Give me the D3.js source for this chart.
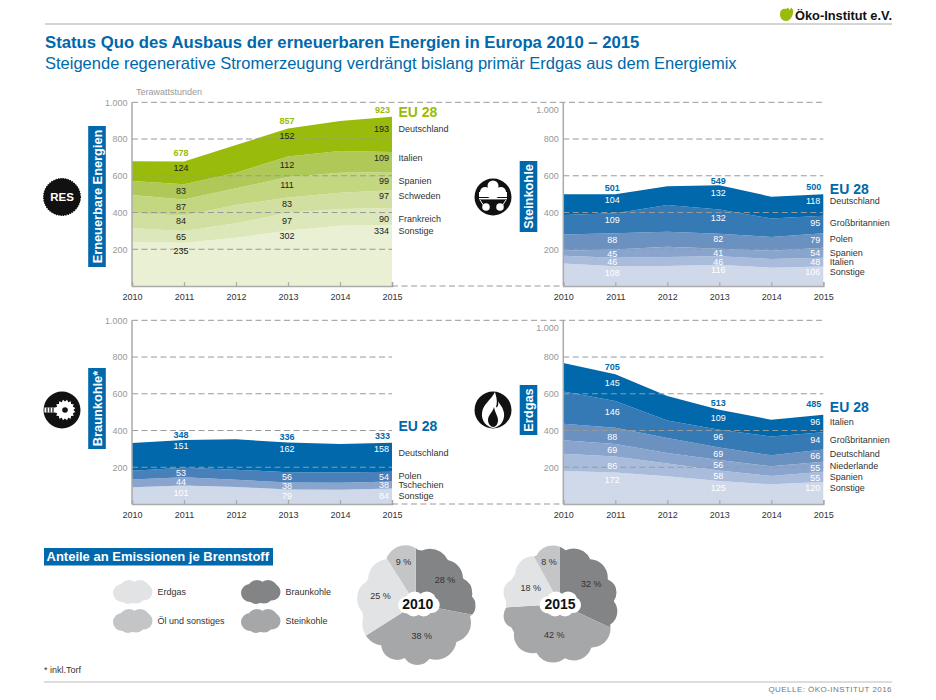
<!DOCTYPE html>
<html>
<head>
  <meta charset="UTF-8">
  <style>
    body { margin: 0; background: #fff; }
    text { font-family: "Liberation Sans", Arial, sans-serif; }
    .yaxis text { fill: #999; font-size: 9px; }
    .xaxis text { fill: #333; font-size: 9px; }
    .axisline { stroke: #aaa; stroke-width: 1.5; }
  </style>
</head>
<body>
<svg width="936" height="700"></svg>
<script src="https://d3js.org/d3.v7.min.js"></script>
<script>

// data, all in TWh, bottom band first
let years = [2010, 2011, 2012, 2013, 2014, 2015];
let labelYears = [2011, 2013, 2015];
let yTicks = [200, 400, 600, 800, 1000];

let resNames = ["Sonstige", "Frankreich", "Schweden", "Spanien", "Italien", "Deutschland"];
let resValues = [
  [238, 235, 263, 302, 328, 334],
  [76, 65, 78, 97, 91, 90],
  [82, 84, 100, 83, 89, 97],
  [99, 87, 91, 111, 109, 99],
  [77, 83, 85, 112, 118, 109],
  [107, 124, 151, 152, 163, 193]
];
let resTotals = [678, 857, 923];

let steinNames = ["Sonstige", "Italien", "Spanien", "Polen", "Großbritannien", "Deutschland"];
let steinValues = [
  [123, 108, 109, 116, 100, 106],
  [42, 46, 49, 46, 47, 48],
  [27, 45, 56, 41, 45, 54],
  [89, 88, 82, 82, 75, 79],
  [106, 109, 145, 132, 101, 95],
  [112, 104, 102, 132, 118, 118]
];
let steinTotals = [501, 549, 500];

let braunNames = ["Sonstige", "Tschechien", "Polen", "Deutschland"];
let braunValues = [
  [91, 101, 93, 79, 78, 84],
  [43, 44, 39, 38, 38, 38],
  [47, 53, 55, 56, 56, 54],
  [151, 151, 165, 162, 155, 158]
];
let braunTotals = [348, 336, 333];

let gasNames = ["Sonstige", "Spanien", "Niederlande", "Deutschland", "Großbritannien", "Italien"];
let gasValues = [
  [180, 172, 151, 125, 107, 120],
  [94, 86, 69, 58, 45, 55],
  [73, 69, 58, 56, 53, 55],
  [90, 88, 81, 69, 60, 66],
  [176, 146, 96, 96, 103, 94],
  [155, 145, 133, 109, 91, 96]
];
let gasTotals = [705, 513, 485];

let fuelNames = ["Braunkohle", "Steinkohle", "Erdgas", "Öl und sonstiges"];
let share2010 = [28, 38, 25, 9];
let share2015 = [32, 42, 18, 8];

let green = ["#e9f0d3", "#dce7ba", "#d1dfa0", "#c3d680", "#afc958", "#98bb0c"];
let blue6 = ["#cfd9e9", "#aabcdc", "#8aa5cd", "#6a91c0", "#3579b5", "#0068ab"];
let blue4 = ["#cfd9e9", "#8aa5cd", "#4a80b9", "#0068ab"];
let fuelColors = ["#838486", "#a6a7a9", "#e2e3e5", "#c4c5c7"];

let blue = "#0068ab";

let svg = d3.select("svg");

let x = d3.scaleLinear().domain([2010, 2015]).range([0, 260]);
let y = d3.scaleLinear().domain([0, 1000]).range([183.7, 0]);
let nf = d3.formatLocale({ decimal: ",", thousands: ".", grouping: [3], currency: ["", ""] }).format(",");

// nudges (px) move the value labels off the band middle the way the original has them
let panels = [
  { names: resNames, values: resValues, totals: resTotals, colors: green, ink: "#222", total: "#98bb0c",
    left: 132, top: 102.3, eu: 112,
    nudge: [[-14, 0, -2, -1, -1, -5], [-22, -1, -1, -2, -2, -7], [-24, 2, -3, 0, -4, -6]],
    nameNudge: [0, 0, 0, 0, 0, 0], totalNudge: [-9, -8, -7] },
  { names: steinNames, values: steinValues, totals: steinTotals, colors: blue6, ink: "#fff", total: blue,
    left: 563.3, top: 102.3, eu: 189, liftTop: true,
    nudge: [[-3, 0, 0, -2, -3, -4], [-5, 1, 0, -2, -4, -4], [-4, 0, 0, -1, -2, -4]],
    nameNudge: [0, 0, 0, -1, 0, 0], totalNudge: [-6, -4, -7] },
  { names: braunNames, values: braunValues, totals: braunTotals, colors: blue4, ink: "#fff", total: blue,
    left: 132, top: 320.3, eu: 426,
    nudge: [[-2, 0, 0, -8], [-1, 0, -1, -8], [0, 0, 0, -8]],
    nameNudge: [0, 0, -1, 4], totalNudge: [-5, -6, -7] },
  { names: gasNames, values: gasValues, totals: gasTotals, colors: blue6, ink: "#fff", total: blue,
    left: 563.3, top: 320.3, eu: 407, liftTop: true,
    nudge: [[-8, 1, 0, 1, -3, -5], [-5, 0, 0, 0, -2, -2], [-5, 1, 1, 0, -1, -2]],
    nameNudge: [0, -1, -2, -2, 0, 0], totalNudge: [-7, -7, -11] }
];

function drawPanel(p) {
  let g = svg.append("g").attr("transform", "translate(" + p.left + "," + p.top + ")");

  let rows = years.map((yr, i) => {
    let row = { year: yr };
    p.names.forEach((n, s) => { row[n] = p.values[s][i]; });
    return row;
  });
  let stacked = d3.stack().keys(p.names)(rows);

  let area = d3.area()
    .x(d => x(d.data.year))
    .y0(d => y(d[0]))
    .y1(d => y(d[1]));

  g.selectAll("path.band")
    .data(stacked)
    .enter()
    .append("path")
    .attr("class", "band")
    .attr("d", area)
    .attr("fill", (d, i) => p.colors[i]);

  // dashed grid sits on top of the bands
  g.selectAll("line.grid")
    .data(yTicks.slice(0, 4))
    .enter()
    .append("line")
    .attr("class", "grid")
    .attr("x1", 0)
    .attr("x2", 260)
    .attr("y1", d => y(d))
    .attr("y2", d => y(d))
    .attr("stroke", "#999")
    .attr("stroke-dasharray", "6,3.5");

  let yAxis = g.append("g")
    .attr("class", "yaxis")
    .call(d3.axisLeft(y).tickValues(yTicks).tickSize(0).tickPadding(4.5).tickFormat(nf));
  yAxis.select(".domain").remove();
  if (p.liftTop) {
    yAxis.selectAll(".tick").filter(d => d == 1000).select("text").attr("dy", "1.1em");
  }

  let xAxis = g.append("g")
    .attr("class", "xaxis")
    .attr("transform", "translate(0," + y(0) + ")")
    .call(d3.axisBottom(x).tickValues(years).tickFormat(d3.format("d")).tickSize(-4).tickPadding(8));
  xAxis.select(".domain").attr("stroke", "#aaa").attr("stroke-width", 1.5);
  xAxis.selectAll(".tick line").attr("stroke", "#aaa").attr("stroke-width", 1.2);

  g.append("line")
    .attr("class", "axisline")
    .attr("x1", 0).attr("x2", 0)
    .attr("y1", y(1000)).attr("y2", y(0));

  // value labels at the band middles
  labelYears.forEach((yr, k) => {
    let i = years.indexOf(yr);
    let last = yr == 2015;
    let lx = last ? x(yr) - 3 : x(yr) - (k == 0 ? 3 : 1);

    stacked.forEach((band, s) => {
      let mid = (band[i][0] + band[i][1]) / 2;
      g.append("text")
        .attr("x", lx)
        .attr("y", y(mid) + p.nudge[k][s])
        .attr("dy", "0.35em")
        .attr("text-anchor", last ? "end" : "middle")
        .attr("fill", p.ink)
        .attr("font-size", 9)
        .text(p.values[s][i]);

      if (last) {
        g.append("text")
          .attr("x", x(2015) + 6.5)
          .attr("y", y(mid) + p.nudge[k][s] + p.nameNudge[s])
          .attr("dy", "0.35em")
          .attr("fill", "#333")
          .attr("font-size", 9)
          .text(p.names[s]);
      }
    });

    let top = stacked[stacked.length - 1][i][1];
    g.append("text")
      .attr("x", lx + (last ? 1 : 0))
      .attr("y", y(top) + p.totalNudge[k])
      .attr("dy", "0.35em")
      .attr("text-anchor", last ? "end" : "middle")
      .attr("fill", p.total)
      .attr("font-size", 9)
      .attr("font-weight", "bold")
      .text(p.totals[k]);
  });

  svg.append("text")
    .attr("x", p.left + x(2015) + 6.5)
    .attr("y", p.eu)
    .attr("dy", "0.35em")
    .attr("fill", p.total)
    .attr("font-size", 14)
    .attr("font-weight", "bold")
    .text("EU 28");
}

// long dashed lines that run across panels
function longDash(x1, x2, yy) {
  svg.append("line")
    .attr("x1", x1).attr("x2", x2)
    .attr("y1", yy).attr("y2", yy)
    .attr("stroke", "#999")
    .attr("stroke-dasharray", "6,3.5");
}

panels.forEach(drawPanel);
longDash(132, 823, 102.3);
longDash(392, 563, 286);
longDash(132, 823, 320.3);
longDash(392, 563, 504);

// headers and rules
svg.append("line").attr("x1", 45).attr("x2", 892).attr("y1", 24).attr("y2", 24).attr("stroke", "#aaa");
svg.append("line").attr("x1", 44).attr("x2", 892).attr("y1", 682).attr("y2", 682).attr("stroke", "#bbb").attr("stroke-width", 1.2);

svg.append("text").attr("x", 45).attr("y", 48).attr("fill", blue)
  .attr("font-size", 16.72).attr("font-weight", "bold")
  .text("Status Quo des Ausbaus der erneuerbaren Energien in Europa 2010 – 2015");
svg.append("text").attr("x", 45).attr("y", 69).attr("fill", blue)
  .attr("font-size", 16.5)
  .text("Steigende regenerative Stromerzeugung verdrängt bislang primär Erdgas aus dem Energiemix");

svg.append("text").attr("x", 136).attr("y", 95).attr("fill", "#999").attr("font-size", 9).text("Terawattstunden");

svg.append("text").attr("x", 892).attr("y", 692).attr("text-anchor", "end")
  .attr("fill", "#777").attr("font-size", 8).attr("letter-spacing", "0.45px")
  .text("QUELLE: ÖKO-INSTITUT 2016");
svg.append("text").attr("x", 44).attr("y", 673).attr("fill", "#333").attr("font-size", 9).text("* inkl.Torf");

// logo
svg.append("path")
  .attr("d", "M780,14 C780,10 783,8 786,9 L788,7.5 L789.5,10 L791.5,7.5 L793,10 C794,15 790,21.5 786,21 C782,21 780,18 780,14Z")
  .attr("fill", "#98bb0c");
svg.append("text").attr("x", 795).attr("y", 20).attr("fill", "#111")
  .attr("font-size", 12.8).attr("font-weight", "bold")
  .text("Öko-Institut e.V.");

// vertical blue titles
function sideTitle(label, cx, y1, y2) {
  svg.append("rect")
    .attr("x", cx - 8.8).attr("y", y1)
    .attr("width", 17.6).attr("height", y2 - y1)
    .attr("fill", blue);
  svg.append("text")
    .attr("transform", "translate(" + cx + "," + (y1 + y2) / 2 + ") rotate(-90)")
    .attr("dy", "0.36em")
    .attr("text-anchor", "middle")
    .attr("fill", "#fff")
    .attr("font-size", 12.8)
    .attr("font-weight", "bold")
    .text(label);
}
sideTitle("Erneuerbare Energien", 97, 126, 267);
sideTitle("Steinkohle", 528.5, 161, 232);
sideTitle("Braunkohle*", 97, 368, 449);
sideTitle("Erdgas", 528.5, 385, 435);

// icons
function iconBase(cx, cy) {
  let g = svg.append("g").attr("transform", "translate(" + cx + "," + cy + ")");
  g.append("circle").attr("r", 18.5).attr("fill", "#111");
  return g;
}

let iconRes = iconBase(62, 197);
iconRes.append("circle").attr("r", 18.3).attr("fill", "none").attr("stroke", "#111")
  .attr("stroke-width", 1.4).attr("stroke-dasharray", "1.2,1.2");
iconRes.append("text").attr("text-anchor", "middle").attr("dy", "0.36em").attr("fill", "#fff")
  .attr("font-size", 11.5).attr("font-weight", "bold").text("RES");

let iconCoal = iconBase(493, 197);
[[-8, -5, 5], [8, -5, 5], [0, -11, 5.5], [0, -5, 7]].forEach(c => {
  iconCoal.append("circle").attr("cx", c[0]).attr("cy", c[1]).attr("r", c[2]).attr("fill", "#fff");
});
iconCoal.append("rect").attr("x", -14).attr("y", -5).attr("width", 28).attr("height", 5).attr("fill", "#fff");
iconCoal.append("rect").attr("x", -14).attr("y", 1).attr("width", 28).attr("height", 1.4).attr("fill", "#fff");
iconCoal.append("path").attr("d", "M-13,3 L-9,9 M13,3 L9,9").attr("stroke", "#fff").attr("stroke-width", 1);
iconCoal.append("circle").attr("cx", -7).attr("cy", 10).attr("r", 3.8).attr("fill", "#fff");
iconCoal.append("circle").attr("cx", 7).attr("cy", 10).attr("r", 3.8).attr("fill", "#fff");

let iconLignite = iconBase(62, 410);
let gearPts = d3.range(32).map(i => {
  let r = i % 2 ? 10.5 : 8.5;
  let a = i / 32 * 2 * Math.PI;
  return [3 + r * Math.cos(a), r * Math.sin(a)];
});
iconLignite.append("path").attr("d", d3.line()(gearPts) + "Z").attr("fill", "#fff");
iconLignite.append("circle").attr("cx", 3).attr("r", 2.8).attr("fill", "#111");
iconLignite.append("rect").attr("x", -17.5).attr("y", -2.5).attr("width", 13).attr("height", 5).attr("fill", "#fff");
iconLignite.append("path").attr("d", "M-15,-2.5 V2.5 M-12,-2.5 V2.5 M-9,-2.5 V2.5")
  .attr("stroke", "#111").attr("stroke-width", 1.2);

let iconGas = iconBase(493, 410);
iconGas.append("path")
  .attr("d", "M2,-18 C-2,-10 -10,-6 -11,3 C-12,11 -6,17 0,18 C7,17 12,11 11,3 C10,-3 7,-5 5,-9 C6,-4 4,-2 3,-3 C5,-9 3,-14 2,-18Z")
  .attr("fill", "#fff");
iconGas.append("path")
  .attr("d", "M1,-3 C0,2 -5,5 -5,10 C-5,14 -2,17 0,17 C3,17 5,14 5,10 C5,6 2,3 1,-3Z")
  .attr("fill", "#111");

// emissions block
svg.append("rect").attr("x", 44).attr("y", 548).attr("width", 229).attr("height", 17.5).attr("fill", blue);
svg.append("text").attr("x", 46.5).attr("y", 561).attr("fill", "#fff")
  .attr("font-size", 13).attr("font-weight", "bold")
  .text("Anteile an Emissionen je Brennstoff");

// clouds are plain unions of circles
let smallCloud = [[-11, 1, 9], [-4, -2, 10], [7, -2, 10], [11, 0, 8.5], [3, 2, 9.5], [-5, 3, 9]];
function legendItem(cx, cy, label, color) {
  let g = svg.append("g").attr("transform", "translate(" + cx + "," + cy + ")");
  g.selectAll("circle")
    .data(smallCloud)
    .enter()
    .append("circle")
    .attr("cx", d => d[0]).attr("cy", d => d[1]).attr("r", d => d[2])
    .attr("fill", color);
  svg.append("text").attr("x", cx + 24.5).attr("y", cy).attr("dy", "0.35em")
    .attr("fill", "#333").attr("font-size", 9).text(label);
}
legendItem(133, 592, fuelNames[2], fuelColors[2]);
legendItem(133, 621, fuelNames[3], fuelColors[3]);
legendItem(261, 592, fuelNames[0], fuelColors[0]);
legendItem(261, 621, fuelNames[1], fuelColors[1]);

let bumps2010 = [[345, 40, 20], [22, 38, 20], [48, 38, 19], [75, 42, 16], [92, 47, 13], [118, 40, 20], [150, 40, 21],
  [178, 46, 15], [205, 44, 16], [238, 37, 22], [278, 39, 20], [312, 37, 20]];
let bumps2015 = [[350, 40, 19], [20, 40, 18], [48, 40, 18], [75, 44, 14], [100, 42, 16], [128, 40, 19], [160, 41, 18],
  [190, 40, 19], [222, 42, 18], [255, 45, 13], [285, 44, 14], [318, 40, 18]];
let holeCloud = [[-12, 1, 8.5], [-4, -3, 9.5], [8, -3, 9.5], [13, 1, 8], [5, 4, 8.5], [-5, 4, 8.5]];

function drawPie(cx, cy, shares, year, bumps, labelRadius, holeShift) {
  let id = "cloud" + year;
  let g = svg.append("g").attr("transform", "translate(" + cx + "," + cy + ")");
  let clip = g.append("clipPath").attr("id", id);
  clip.append("circle").attr("r", 54);
  bumps.forEach(b => {
    let a = b[0] * Math.PI / 180;
    clip.append("circle")
      .attr("cx", b[1] * Math.sin(a))
      .attr("cy", -b[1] * Math.cos(a))
      .attr("r", b[2]);
  });

  let pie = d3.pie().sort(null)(shares);
  let arc = d3.arc().innerRadius(0).outerRadius(80);

  g.append("g")
    .attr("clip-path", "url(#" + id + ")")
    .selectAll("path")
    .data(pie)
    .enter()
    .append("path")
    .attr("d", arc)
    .attr("fill", (d, i) => fuelColors[i]);

  g.selectAll("text.share")
    .data(pie)
    .enter()
    .append("text")
    .attr("class", "share")
    .attr("x", (d, i) => labelRadius[i] * Math.sin((d.startAngle + d.endAngle) / 2))
    .attr("y", (d, i) => -labelRadius[i] * Math.cos((d.startAngle + d.endAngle) / 2))
    .attr("dy", "0.35em")
    .attr("text-anchor", "middle")
    .attr("fill", "#333")
    .attr("font-size", 9)
    .text(d => d.data + " %");

  g.selectAll("circle.hole")
    .data(holeCloud)
    .enter()
    .append("circle")
    .attr("class", "hole")
    .attr("cx", d => d[0] + holeShift).attr("cy", d => d[1]).attr("r", d => d[2])
    .attr("fill", "#fff");

  g.append("text")
    .attr("x", holeShift * 0.7)
    .attr("text-anchor", "middle")
    .attr("dy", "0.36em")
    .attr("fill", "#111")
    .attr("font-size", 14)
    .attr("font-weight", "bold")
    .text(year);
}
drawPie(415.7, 604, share2010, 2010, bumps2010, [38, 32, 36, 44], 3);
drawPie(560, 604, share2015, 2015, bumps2015, [37, 31, 33.5, 44], 0);

</script>
</body>
</html>
